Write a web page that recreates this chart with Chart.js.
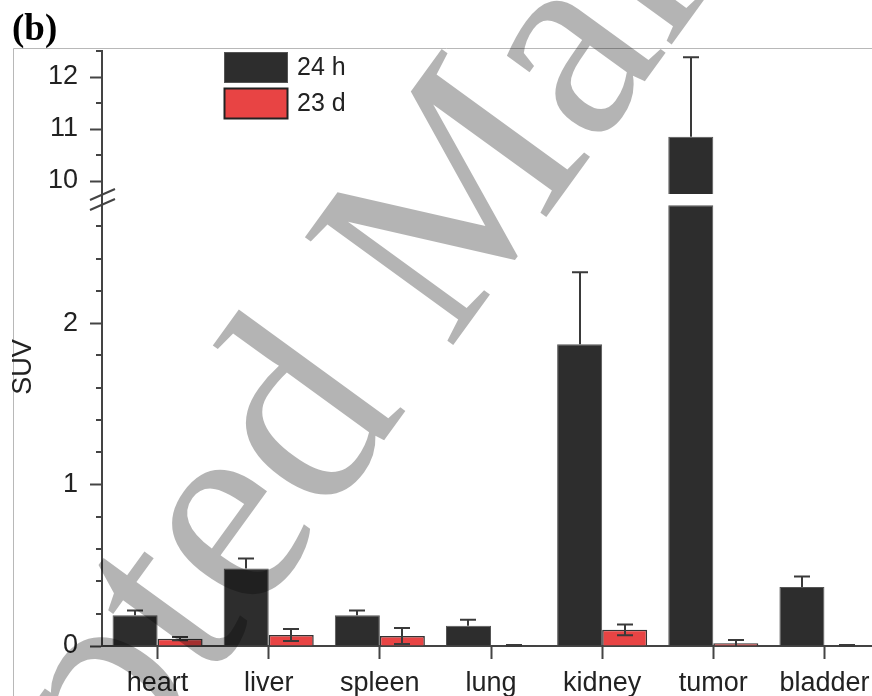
<!DOCTYPE html>
<html><head><meta charset="utf-8">
<script src="https://cdn.jsdelivr.net/npm/chart.js@4"></script>
<style>
html,body{margin:0;padding:0;overflow:hidden;background:#fff;width:872px;height:696px}
canvas{position:absolute;left:0;top:0}
</style></head>
<body><canvas id="c" width="880" height="696" style="width:880px;height:696px"></canvas>
<script>
// ---- data ----
const categories = ['heart', 'liver', 'spleen', 'lung', 'kidney', 'tumor', 'bladder'];
const seriesLabels = ['24 h', '23 d'];
const suv24h = [0.19, 0.48, 0.19, 0.126, 1.87, 10.85, 0.366];
const err24h = [0.03, 0.062, 0.03, 0.037, 0.446, 1.53, 0.065];
const suv23d = [0.045, 0.068, 0.062, 0.004, 0.10, 0.017, 0.004];
const err23d = [0.01, 0.037, 0.05, 0.002, 0.033, 0.02, 0.002];
const lowTicks = [0, 1, 2];
const lowMinorTicks = [0.2, 0.4, 0.6, 0.8, 1.2, 1.4, 1.6, 1.8, 2.2, 2.4, 2.6];
const highTicks = [10, 11, 12];
const highMinorTicks = [10.5, 11.5, 12.5];
const lowRange = [0, 2.8];
const highRange = [9.75, 12.5];
const lowClipValue = 2.73;
const yTitle = 'SUV';
const panelLabel = '(b)';
const watermarkText = 'Accepted Manuscript';

// ---- styles ----
const DARK = '#2d2d2d', RED = '#e84444', AXIS = '#444', TXT = '#222';
const FONT = '"Liberation Sans", Arial, sans-serif';

const lower24 = suv24h.map(v => v > lowRange[1] ? lowClipValue : v);
const upper24 = suv24h.map(v => v > highRange[0] ? v : null);
const lower23 = suv23d.map(v => v > lowRange[1] ? lowClipValue : v);
const upper23 = suv23d.map(v => v > highRange[0] ? v : null);

const decor = {
  id: 'decor',
  beforeDraw(chart) {
    const ctx = chart.ctx;
    ctx.save();
    ctx.fillStyle = '#fff';
    ctx.fillRect(0, 0, chart.width, chart.height);
    ctx.strokeStyle = '#b8b8b8'; ctx.lineWidth = 1;
    ctx.beginPath();
    ctx.moveTo(13.5, chart.height); ctx.lineTo(13.5, 48.5); ctx.lineTo(chart.width, 48.5);
    ctx.stroke();
    ctx.fillStyle = '#000';
    ctx.font = 'bold 37px "Liberation Serif", "Times New Roman", serif';
    ctx.textBaseline = 'alphabetic'; ctx.textAlign = 'left';
    ctx.fillText(panelLabel, 12, 40);
    ctx.restore();
  },
  afterDatasetsDraw(chart) {
    const ctx = chart.ctx;
    const yl = chart.scales.yLow, yh = chart.scales.yHigh;
    ctx.save();
    ctx.strokeStyle = '#3a3a3a'; ctx.lineWidth = 2;
    [[0, 2, suv24h, err24h, true], [1, 3, suv23d, err23d, false]].forEach(([li, hi, vals, errs, upOnly]) => {
      vals.forEach((v, i) => {
        const onHigh = v > lowRange[1];
        const sc = onHigh ? yh : yl;
        const el = chart.getDatasetMeta(onHigh ? hi : li).data[i];
        if (!el) return;
        const x = Math.round(el.x);
        const top = sc.getPixelForValue(v + errs[i]);
        const lowV = v - errs[i];
        const clipped = upOnly || lowV < sc.min;
        const bot = upOnly ? sc.getPixelForValue(v) : sc.getPixelForValue(lowV < sc.min ? sc.min : lowV);
        ctx.beginPath();
        ctx.moveTo(x, top); ctx.lineTo(x, bot);
        ctx.moveTo(x - 8, top); ctx.lineTo(x + 8, top);
        if (!clipped) { ctx.moveTo(x - 8, bot); ctx.lineTo(x + 8, bot); }
        ctx.stroke();
      });
    });
    ctx.restore();
  },
  afterDraw(chart) {
    const ctx = chart.ctx;
    const yl = chart.scales.yLow, yh = chart.scales.yHigh;
    const ax = chart.chartArea.left;
    ctx.save();
    // minor ticks
    ctx.strokeStyle = AXIS; ctx.lineWidth = 2;
    ctx.beginPath();
    lowMinorTicks.forEach(v => { const y = Math.round(yl.getPixelForValue(v)); ctx.moveTo(ax - 6, y); ctx.lineTo(ax, y); });
    highMinorTicks.forEach(v => { const y = Math.round(yh.getPixelForValue(v)); ctx.moveTo(ax - 6, y); ctx.lineTo(ax, y); });
    ctx.stroke();
    // axis break marks
    const yb = yh.bottom;
    ctx.beginPath();
    ctx.moveTo(ax - 12, yb + 6); ctx.lineTo(ax + 13, yb - 5);
    ctx.moveTo(ax - 12, yb + 16); ctx.lineTo(ax + 13, yb + 5);
    ctx.stroke();
    // y title
    ctx.fillStyle = TXT;
    ctx.font = '27px ' + FONT;
    ctx.textAlign = 'center'; ctx.textBaseline = 'middle';
    ctx.translate(24, 367); ctx.rotate(-Math.PI / 2);
    ctx.fillText(yTitle, 0, 0);
    ctx.setTransform(1, 0, 0, 1, 0, 0);
    // legend
    const ds = chart.data.datasets;
    [0, 1].forEach(k => {
      const y0 = k === 0 ? 52 : 88;
      ctx.fillStyle = ds[k].backgroundColor;
      ctx.fillRect(224, y0, 64, 31);
      ctx.strokeStyle = k === 0 ? '#555' : '#222';
      ctx.lineWidth = k === 0 ? 1 : 2;
      ctx.strokeRect(224.5, y0 + 0.5, 63, 30);
      ctx.fillStyle = TXT;
      ctx.font = '25px ' + FONT;
      ctx.textAlign = 'left'; ctx.textBaseline = 'middle';
      ctx.fillText(ds[k].label, 297, y0 + 16);
    });
    // watermark
    ctx.globalCompositeOperation = 'multiply';
    ctx.fillStyle = '#b4b4b4';
    ctx.font = '280px "Liberation Serif", "Times New Roman", serif';
    ctx.textAlign = 'left'; ctx.textBaseline = 'alphabetic';
    ctx.translate(252, 622);
    ctx.rotate(-54 * Math.PI / 180);
    const off = ctx.measureText('Accept').width;
    ctx.fillText(watermarkText, -off, 0);
    ctx.restore();
  }
};

const yCommon = {
  type: 'linear', position: 'left', stack: 'ys', stacked: false, offset: false,
  grid: { drawOnChartArea: false, tickLength: 12, tickWidth: 2, tickColor: AXIS },
  border: { color: AXIS, width: 2 },
  ticks: { font: { family: FONT, size: 27 }, color: TXT, padding: 12 },
  afterFit: s => { s.width = 102; }
};

new Chart(document.getElementById('c'), {
  type: 'bar',
  data: {
    labels: categories,
    datasets: [
      { label: seriesLabels[0], data: lower24, yAxisID: 'yLow', stack: 's24', backgroundColor: DARK, borderColor: '#555', borderWidth: 1 },
      { label: seriesLabels[1], data: lower23, yAxisID: 'yLow', stack: 's23', backgroundColor: RED, borderColor: '#333', borderWidth: 1.5 },
      { label: seriesLabels[0], data: upper24, yAxisID: 'yHigh', stack: 's24', backgroundColor: DARK, borderColor: '#555', borderWidth: 1 },
      { label: seriesLabels[1], data: upper23, yAxisID: 'yHigh', stack: 's23', backgroundColor: RED, borderColor: '#333', borderWidth: 1.5 }
    ]
  },
  options: {
    responsive: false, animation: false, devicePixelRatio: 1,
    layout: { padding: { top: 51, left: 0, right: 0, bottom: 0 } },
    datasets: { bar: { categoryPercentage: 0.81, barPercentage: 1.0 } },
    plugins: { legend: { display: false }, tooltip: { enabled: false } },
    scales: {
      x: {
        type: 'category', stacked: true,
        grid: { offset: false, drawOnChartArea: false, tickLength: 13, tickWidth: 2, tickColor: AXIS },
        border: { color: AXIS, width: 2 },
        ticks: { font: { family: FONT, size: 27 }, color: TXT, padding: 8, maxRotation: 0, autoSkip: false },
        afterFit: s => { s.height = 50; }
      },
      yLow: Object.assign({}, yCommon, {
        min: lowRange[0], max: lowRange[1], stackWeight: 452,
        afterBuildTicks: s => { s.ticks = lowTicks.map(v => ({ value: v })); }
      }),
      yHigh: Object.assign({}, yCommon, {
        min: highRange[0], max: highRange[1], stackWeight: 143,
        afterBuildTicks: s => { s.ticks = highTicks.map(v => ({ value: v })); }
      })
    }
  },
  plugins: [decor]
});
</script>
</body></html>
